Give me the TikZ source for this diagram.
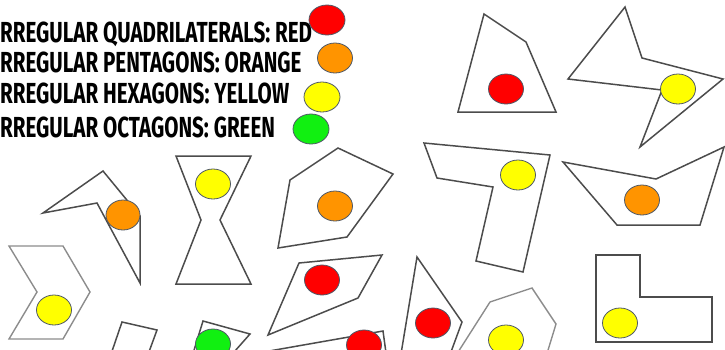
\documentclass[tikz,border=0pt]{standalone}
\usepackage{fontspec}
\setmainfont{Fira Sans}
\definecolor{dotred}{HTML}{FF0000}
\definecolor{dotorange}{HTML}{FF9400}
\definecolor{dotyellow}{HTML}{FFFF00}
\definecolor{dotgreen}{HTML}{11F011}
\definecolor{rimgray}{HTML}{4E5866}
\begin{document}
\begin{tikzpicture}[x=1pt, y=-1pt,
  poly/.style={draw=black!70, line width=1.5pt},
  polylight/.style={draw=black!45, line width=1.4pt},
  spot/.style={draw=rimgray, line width=0.8pt, fill=#1},
  legend/.style={font=\fontsize{29}{29}\selectfont\bfseries, anchor=base west, inner sep=0pt, xscale=0.71, transform shape}]
\useasboundingbox (0,0) rectangle (725,349);
\clip (0,0) rectangle (725,349);

% legend
\node[legend] (quad) at (-6,42) {IRREGULAR QUADRILATERALS: RED};
\node[legend] (penta) at (-6,72) {IRREGULAR PENTAGONS: ORANGE};
\node[legend] (hexa) at (-6,103) {IRREGULAR HEXAGONS: YELLOW};
\node[legend] (octa) at (-6,137) {IRREGULAR OCTAGONS: GREEN};
\filldraw[spot=dotred] (327,20) ellipse [x radius=18, y radius=15];
\filldraw[spot=dotorange] (335,58) ellipse [x radius=17.5, y radius=15];
\filldraw[spot=dotyellow] (322,97) ellipse [x radius=18, y radius=15];
\filldraw[spot=dotgreen] (311,129) ellipse [x radius=18, y radius=15];

% top row
\draw[poly] (484,14) -- (526,42) -- (556,112) -- (458,112) -- cycle;
\filldraw[spot=dotred] (506,89) ellipse [x radius=17.5, y radius=15];
\draw[poly] (625,7) -- (642,58) -- (723,79) -- (640,147) -- (662,90) -- (568,79) -- cycle;
\filldraw[spot=dotyellow] (678,89) ellipse [x radius=17.5, y radius=15];

% left side
\draw[poly] (43,213) -- (103,171) -- (140,216) -- (140,283) -- (97,203) -- cycle;
\filldraw[spot=dotorange] (123,215) ellipse [x radius=17, y radius=15];
\draw[poly] (176,156) -- (251,156) -- (220,220) -- (251,284) -- (176,284) -- (201,220) -- cycle;
\filldraw[spot=dotyellow] (213,184) ellipse [x radius=17.5, y radius=15];
\draw[polylight] (9,246) -- (63,246) -- (90,292) -- (63,339) -- (9,339) -- (37,292) -- cycle;
\filldraw[spot=dotyellow] (54,310) ellipse [x radius=17.5, y radius=15];
\draw[poly] (109,360) -- (122,322) -- (157,330) -- (146,360);
\draw[poly] (191,360) -- (203,321) -- (250,334) -- (227,360);
\filldraw[spot=dotgreen] (213,344) ellipse [x radius=17.5, y radius=15];

% middle
\draw[poly] (338,148) -- (393,174) -- (347,237) -- (278,248) -- (290,180) -- cycle;
\filldraw[spot=dotorange] (335,206) ellipse [x radius=17.5, y radius=15];
\draw[poly] (299,263) -- (382,255) -- (358,298) -- (268,335) -- cycle;
\filldraw[spot=dotred] (322,280) ellipse [x radius=17.5, y radius=15];
\draw[poly] (218,360) -- (383,331) -- (387,360);
\filldraw[spot=dotred] (364,345) ellipse [x radius=17.5, y radius=15];
\draw[poly] (400,360) -- (417,257) -- (462,322) -- (448,360);
\filldraw[spot=dotred] (433,323) ellipse [x radius=17.5, y radius=15];

% right side
\draw[poly] (424,143) -- (550,155) -- (523,272) -- (476,261) -- (493,187) -- (437,178) -- cycle;
\filldraw[spot=dotyellow] (518,175) ellipse [x radius=17.5, y radius=15];
\draw[poly] (563,162) -- (656,179) -- (724,147) -- (700,225) -- (617,225) -- cycle;
\filldraw[spot=dotorange] (642,200) ellipse [x radius=17.5, y radius=15];
\draw[poly] (596,255) -- (640,255) -- (640,297) -- (712,297) -- (712,342) -- (596,342) -- cycle;
\filldraw[spot=dotyellow] (620,323) ellipse [x radius=17.5, y radius=15];
\draw[polylight] (453,360) -- (490,302) -- (532,288) -- (556,324) -- (545,360);
\filldraw[spot=dotyellow] (506,340) ellipse [x radius=17.5, y radius=15];
\end{tikzpicture}
\end{document}
